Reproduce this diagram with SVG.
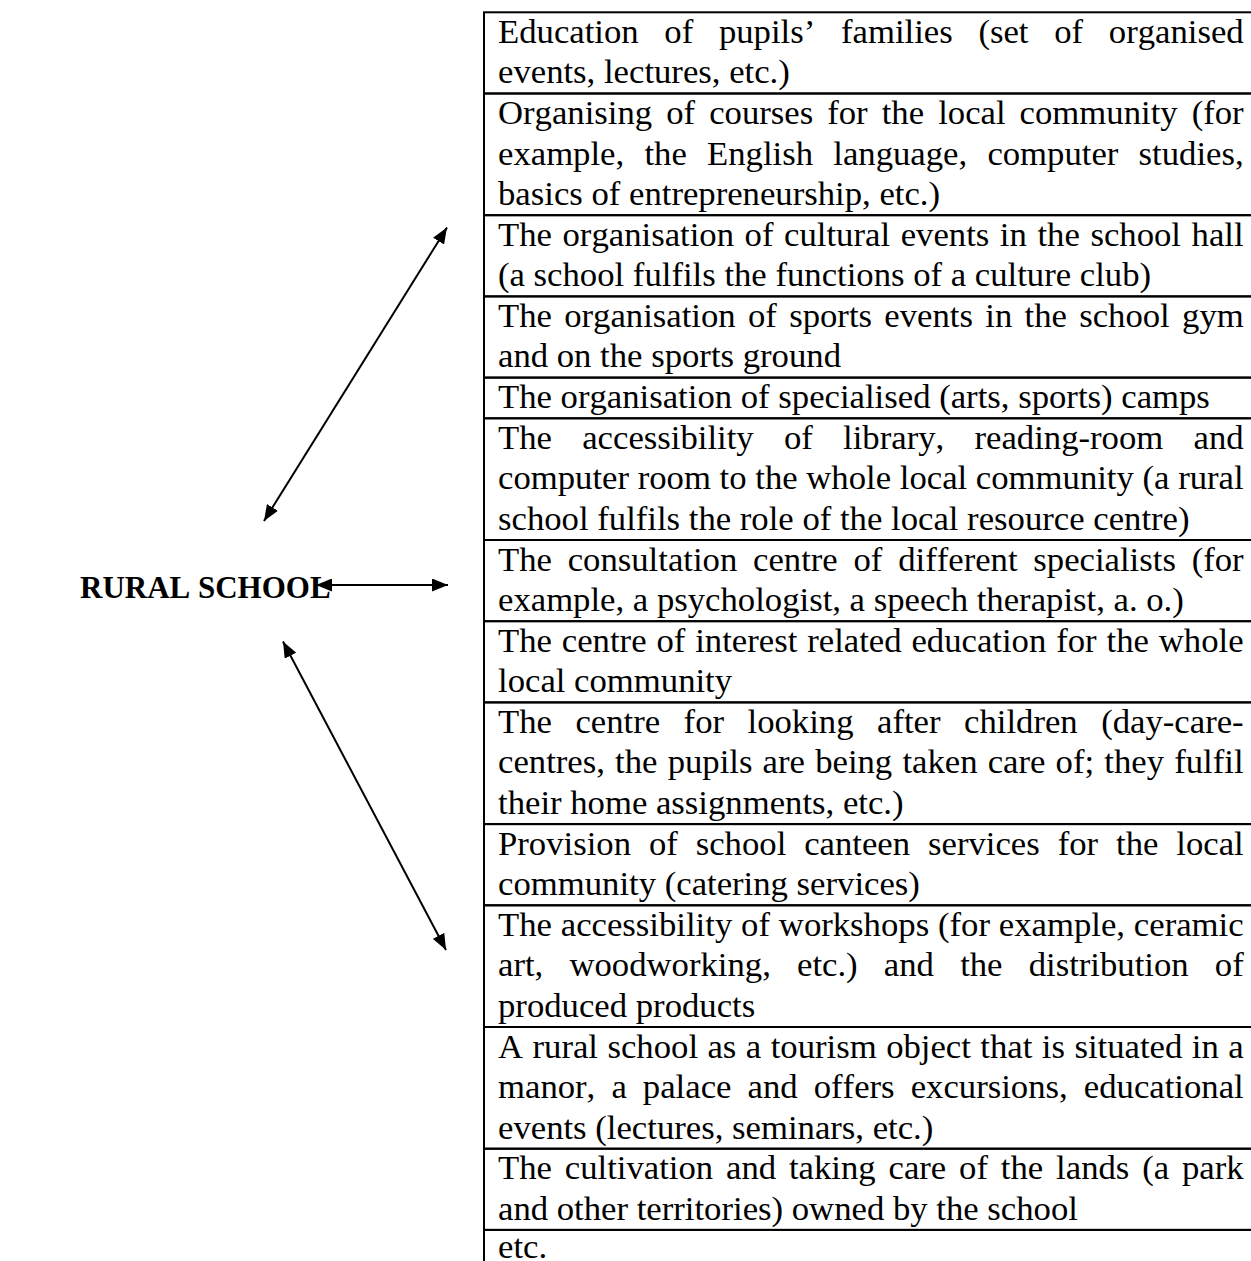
<svg xmlns="http://www.w3.org/2000/svg" width="1251" height="1261" viewBox="0 0 1251 1261">
  <style>
    .t { font-family: "Liberation Serif", "Times New Roman", serif; font-size: 34.7px; fill: #000; font-kerning: none; font-variant-ligatures: none; }
    .title { font-weight: bold; font-size: 31px; }
    .cell { fill: none; stroke: #000; stroke-width: 2; }
    .conn { fill: none; stroke: #000; stroke-width: 2; marker-start: url(#ah); marker-end: url(#ah); }
  </style>
  <defs>
    <marker id="ah" viewBox="0 0 16 13" refX="16" refY="6.5" markerWidth="16" markerHeight="13" markerUnits="userSpaceOnUse" orient="auto-start-reverse">
      <path d="M0,0 L16,6.5 L0,13 Z" fill="#000"/>
    </marker>
  </defs>
  <rect width="1251" height="1261" fill="#fff"/>

  <!-- central node -->
  <g id="rural-school">
    <text class="t title" x="80" y="598">RURAL SCHOOL</text>
  </g>

  <!-- activity rows of the table -->
  <g id="item-01">
    <rect class="cell" x="484" y="12.3" width="790" height="81.2"/>
    <text class="t" x="498" y="42.8" word-spacing="17.03">Education of pupils’ families (set of organised</text>
    <text class="t" x="498" y="83.3">events, lectures, etc.)</text>
  </g>
  <g id="item-02">
    <rect class="cell" x="484" y="93.5" width="790" height="121.7"/>
    <text class="t" x="498" y="124" word-spacing="5.38">Organising of courses for the local community (for</text>
    <text class="t" x="498" y="164.5" word-spacing="11.57">example, the English language, computer studies,</text>
    <text class="t" x="498" y="205">basics of entrepreneurship, etc.)</text>
  </g>
  <g id="item-03">
    <rect class="cell" x="484" y="215.2" width="790" height="81.2"/>
    <text class="t" x="498" y="245.7" word-spacing="1.93">The organisation of cultural events in the school hall</text>
    <text class="t" x="498" y="286.2">(a school fulfils the functions of a culture club)</text>
  </g>
  <g id="item-04">
    <rect class="cell" x="484" y="296.4" width="790" height="81.2"/>
    <text class="t" x="498" y="326.9" word-spacing="3.62">The organisation of sports events in the school gym</text>
    <text class="t" x="498" y="367.4">and on the sports ground</text>
  </g>
  <g id="item-05">
    <rect class="cell" x="484" y="377.6" width="790" height="40.7"/>
    <text class="t" x="498" y="408.1">The organisation of specialised (arts, sports) camps</text>
  </g>
  <g id="item-06">
    <rect class="cell" x="484" y="418.3" width="790" height="121.7"/>
    <text class="t" x="498" y="448.8" word-spacing="21.6">The accessibility of library, reading-room and</text>
    <text class="t" x="498" y="489.3" word-spacing="0.01">computer room to the whole local community (a rural</text>
    <text class="t" x="498" y="529.8">school fulfils the role of the local resource centre)</text>
  </g>
  <g id="item-07">
    <rect class="cell" x="484" y="540" width="790" height="81.2"/>
    <text class="t" x="498" y="570.5" word-spacing="7.09">The consultation centre of different specialists (for</text>
    <text class="t" x="498" y="611">example, a psychologist, a speech therapist, a. o.)</text>
  </g>
  <g id="item-08">
    <rect class="cell" x="484" y="621.2" width="790" height="81.2"/>
    <text class="t" x="498" y="651.7" word-spacing="1.22">The centre of interest related education for the whole</text>
    <text class="t" x="498" y="692.2">local community</text>
  </g>
  <g id="item-09">
    <rect class="cell" x="484" y="702.4" width="790" height="121.7"/>
    <text class="t" x="498" y="732.9" word-spacing="14.81">The centre for looking after children (day-care-</text>
    <text class="t" x="498" y="773.4" word-spacing="1.51">centres, the pupils are being taken care of; they fulfil</text>
    <text class="t" x="498" y="813.9">their home assignments, etc.)</text>
  </g>
  <g id="item-10">
    <rect class="cell" x="484" y="824.1" width="790" height="81.2"/>
    <text class="t" x="498" y="854.6" word-spacing="9.24">Provision of school canteen services for the local</text>
    <text class="t" x="498" y="895.1">community (catering services)</text>
  </g>
  <g id="item-11">
    <rect class="cell" x="484" y="905.3" width="790" height="121.7"/>
    <text class="t" x="498" y="935.8" word-spacing="0.18">The accessibility of workshops (for example, ceramic</text>
    <text class="t" x="498" y="976.3" word-spacing="17.52">art, woodworking, etc.) and the distribution of</text>
    <text class="t" x="498" y="1016.8">produced products</text>
  </g>
  <g id="item-12">
    <rect class="cell" x="484" y="1027" width="790" height="121.7"/>
    <text class="t" x="498" y="1057.5" word-spacing="0.79">A rural school as a tourism object that is situated in a</text>
    <text class="t" x="498" y="1098" word-spacing="7.42">manor, a palace and offers excursions, educational</text>
    <text class="t" x="498" y="1138.5">events (lectures, seminars, etc.)</text>
  </g>
  <g id="item-13">
    <rect class="cell" x="484" y="1148.7" width="790" height="81.2"/>
    <text class="t" x="498" y="1179.2" word-spacing="4.19">The cultivation and taking care of the lands (a park</text>
    <text class="t" x="498" y="1219.7">and other territories) owned by the school</text>
  </g>
  <g id="item-14">
    <rect class="cell" x="484" y="1229.9" width="790" height="60"/>
    <text class="t" x="498" y="1258">etc.</text>
  </g>

  <!-- two-way links between the school and the table -->
  <g id="connectors">
    <line class="conn" x1="264" y1="521" x2="447" y2="227.5"/>
    <line class="conn" x1="316" y1="585" x2="448" y2="585"/>
    <line class="conn" x1="283" y1="641.5" x2="446" y2="950"/>
  </g>
</svg>
